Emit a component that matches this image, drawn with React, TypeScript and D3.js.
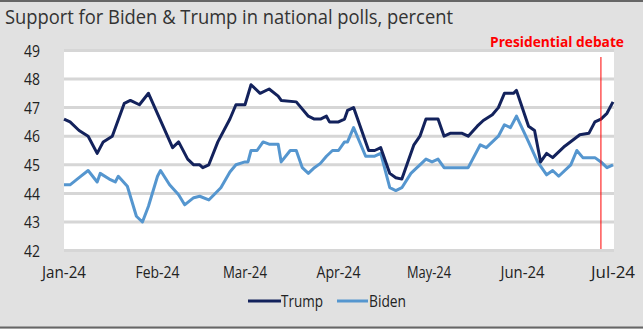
import React from "react";
import * as d3 from "d3";

const trump: [string, number][] = [
  ["2024-01-01", 46.6], ["2024-01-03", 46.5], ["2024-01-06", 46.2], ["2024-01-09", 46.0],
  ["2024-01-12", 45.4], ["2024-01-14", 45.8], ["2024-01-17", 46.0], ["2024-01-21", 47.15],
  ["2024-01-23", 47.25], ["2024-01-26", 47.1], ["2024-01-29", 47.5], ["2024-02-06", 45.6],
  ["2024-02-08", 45.8], ["2024-02-11", 45.2], ["2024-02-13", 45.0], ["2024-02-15", 45.0],
  ["2024-02-16", 44.9], ["2024-02-18", 45.0], ["2024-02-21", 45.8], ["2024-02-25", 46.6],
  ["2024-02-27", 47.1], ["2024-03-01", 47.1], ["2024-03-03", 47.8], ["2024-03-06", 47.5],
  ["2024-03-09", 47.65], ["2024-03-12", 47.4], ["2024-03-13", 47.25], ["2024-03-18", 47.2],
  ["2024-03-22", 46.7], ["2024-03-24", 46.6], ["2024-03-26", 46.6], ["2024-03-28", 46.7],
  ["2024-03-29", 46.5], ["2024-04-01", 46.5], ["2024-04-03", 46.6], ["2024-04-04", 46.9],
  ["2024-04-06", 47.0], ["2024-04-11", 45.5], ["2024-04-13", 45.5], ["2024-04-15", 45.6],
  ["2024-04-18", 44.7], ["2024-04-20", 44.55], ["2024-04-22", 44.5], ["2024-04-26", 45.7],
  ["2024-04-28", 46.0], ["2024-04-30", 46.6], ["2024-05-04", 46.6], ["2024-05-06", 46.0],
  ["2024-05-08", 46.1], ["2024-05-12", 46.1], ["2024-05-14", 46.0], ["2024-05-17", 46.35],
  ["2024-05-19", 46.55], ["2024-05-22", 46.75], ["2024-05-24", 47.0], ["2024-05-26", 47.5],
  ["2024-05-29", 47.5], ["2024-05-30", 47.6], ["2024-06-03", 46.35], ["2024-06-05", 46.2],
  ["2024-06-07", 45.1], ["2024-06-09", 45.4], ["2024-06-11", 45.25], ["2024-06-15", 45.65],
  ["2024-06-20", 46.05], ["2024-06-23", 46.1], ["2024-06-25", 46.5], ["2024-06-27", 46.6],
  ["2024-06-29", 46.8], ["2024-07-01", 47.2],
];

const biden: [string, number][] = [
  ["2024-01-01", 44.3], ["2024-01-03", 44.3], ["2024-01-06", 44.55], ["2024-01-09", 44.8],
  ["2024-01-12", 44.4], ["2024-01-13", 44.7], ["2024-01-16", 44.5], ["2024-01-18", 44.4],
  ["2024-01-19", 44.6], ["2024-01-22", 44.25], ["2024-01-25", 43.2], ["2024-01-27", 43.0],
  ["2024-01-29", 43.55], ["2024-02-01", 44.6], ["2024-02-02", 44.8], ["2024-02-05", 44.3],
  ["2024-02-08", 43.95], ["2024-02-10", 43.6], ["2024-02-13", 43.85], ["2024-02-15", 43.9],
  ["2024-02-18", 43.77], ["2024-02-22", 44.2], ["2024-02-25", 44.75], ["2024-02-27", 45.0],
  ["2024-03-01", 45.1], ["2024-03-02", 45.1], ["2024-03-03", 45.5], ["2024-03-05", 45.5],
  ["2024-03-07", 45.8], ["2024-03-09", 45.72], ["2024-03-12", 45.72], ["2024-03-13", 45.1],
  ["2024-03-16", 45.5], ["2024-03-18", 45.5], ["2024-03-20", 44.9], ["2024-03-22", 44.7],
  ["2024-03-24", 44.9], ["2024-03-26", 45.05], ["2024-03-28", 45.3], ["2024-03-30", 45.5],
  ["2024-04-01", 45.5], ["2024-04-03", 45.8], ["2024-04-04", 45.8], ["2024-04-06", 46.3],
  ["2024-04-10", 45.3], ["2024-04-13", 45.3], ["2024-04-15", 45.4], ["2024-04-18", 44.2],
  ["2024-04-20", 44.1], ["2024-04-22", 44.2], ["2024-04-25", 44.7], ["2024-04-27", 44.9],
  ["2024-04-28", 45.0], ["2024-04-30", 45.2], ["2024-05-02", 45.1], ["2024-05-04", 45.2],
  ["2024-05-06", 44.9], ["2024-05-14", 44.9], ["2024-05-18", 45.7], ["2024-05-20", 45.6],
  ["2024-05-24", 46.0], ["2024-05-26", 46.4], ["2024-05-28", 46.3], ["2024-05-30", 46.7],
  ["2024-06-03", 45.8], ["2024-06-06", 45.1], ["2024-06-09", 44.65], ["2024-06-11", 44.8],
  ["2024-06-13", 44.6], ["2024-06-17", 45.0], ["2024-06-19", 45.5], ["2024-06-21", 45.25],
  ["2024-06-25", 45.25], ["2024-06-27", 45.1], ["2024-06-29", 44.9], ["2024-07-01", 45.0],
];

const monthTicks = ["2024-01-01", "2024-02-01", "2024-03-01", "2024-04-01", "2024-05-01", "2024-06-01", "2024-07-01"];
const yTicks = [42, 43, 44, 45, 46, 47, 48, 49];
const debateDate = "2024-06-27";
const title = "Support for Biden & Trump in national polls, percent";
const debateLabel = "Presidential debate";
const seriesNames = ["Trump", "Biden"];

const W = 643;
const H = 329;
const FONT = "'Open Sans', sans-serif";
const TRUMP_C = "#13225c";
const BIDEN_C = "#5596cf";
const BG = "#e1e1e1";
const GRID = "#d6d6d6";

const parse = d3.timeParse("%Y-%m-%d");
const fmt = d3.timeFormat("%b-%y");

export default function App() {
  const x = d3.scaleTime()
    .domain([parse("2024-01-01")!, parse("2024-07-01")!])
    .range([64, 613]);
  const y = d3.scaleLinear().domain([42, 49]).range([250.6, 50.4]);
  const line = d3.line<[string, number]>()
    .x((d) => x(parse(d[0])!))
    .y((d) => y(d[1]));
  const dx = x(parse(debateDate)!);

  return (
    <svg width={W} height={H} style={{ position: "absolute", left: 0, top: 0, display: "block" }}>
      <rect x={0} y={0} width={W} height={H} fill={BG} />
      <line x1={0} x2={W} y1={1} y2={1} stroke="#666" strokeWidth={2} />
      <line x1={0} x2={W} y1={327.5} y2={327.5} stroke="#666" strokeWidth={2} />
      <text x={5} y={24} fontFamily={FONT} fontSize={20} fill="#333" textLength={448} lengthAdjust="spacingAndGlyphs">{title}</text>
      <rect x={64} y={y(49) + 1.5} width={550} height={y(42) - y(49) - 3} fill="#fff" />
      {yTicks.map((t) => (
        <line key={"g" + t} x1={64} x2={614} y1={y(t)} y2={y(t)} stroke={GRID} strokeWidth={3} />
      ))}
      {yTicks.map((t) => (
        <text key={"t" + t} x={40} y={y(t)} dy="0.36em" textAnchor="end" fontFamily={FONT} fontSize={17} fill="#222" textLength={16} lengthAdjust="spacingAndGlyphs">{t}</text>
      ))}
      {monthTicks.map((m) => (
        <text key={m} x={x(parse(m)!)} y={278} textAnchor="middle" fontFamily={FONT} fontSize={16} fill="#222" textLength={44} lengthAdjust="spacingAndGlyphs">{fmt(parse(m)!)}</text>
      ))}
      <path d={line(biden)!} fill="none" stroke={BIDEN_C} strokeWidth={3} strokeLinejoin="round" />
      <path d={line(trump)!} fill="none" stroke={TRUMP_C} strokeWidth={3} strokeLinejoin="round" />
      <line x1={dx} x2={dx} y1={57} y2={249} stroke="#ff0000" strokeWidth={1} />
      <text x={624} y={47} textAnchor="end" fontFamily={FONT} fontSize={15} fontWeight="bold" fill="#ff0000" textLength={134} lengthAdjust="spacingAndGlyphs">{debateLabel}</text>
      <line x1={248} x2={281} y1={301} y2={301} stroke={TRUMP_C} strokeWidth={3} />
      <text x={281} y={301} dy="0.36em" fontFamily={FONT} fontSize={16} fill="#222" textLength={42} lengthAdjust="spacingAndGlyphs">{seriesNames[0]}</text>
      <line x1={337} x2={368} y1={301} y2={301} stroke={BIDEN_C} strokeWidth={3} />
      <text x={369} y={301} dy="0.36em" fontFamily={FONT} fontSize={16} fill="#222" textLength={37} lengthAdjust="spacingAndGlyphs">{seriesNames[1]}</text>
    </svg>
  );
}
